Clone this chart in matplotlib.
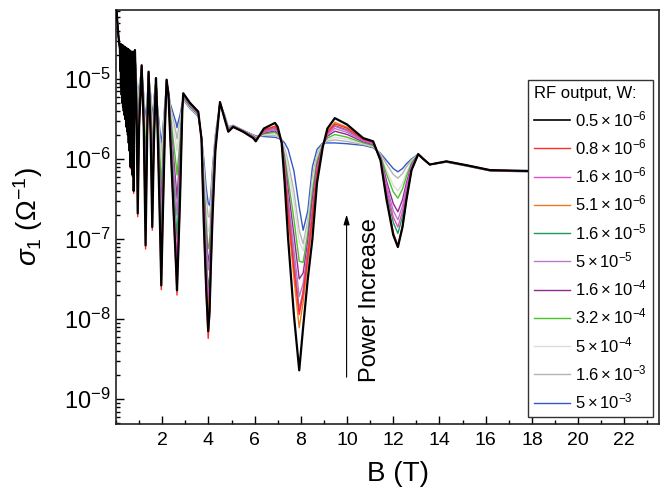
import numpy as np
import matplotlib
matplotlib.use("Agg")
import matplotlib.pyplot as plt
from matplotlib.ticker import MultipleLocator, LogLocator, NullFormatter
from matplotlib.lines import Line2D

plt.rcParams["font.family"] = ["Liberation Sans", "DejaVu Sans"]
plt.rcParams["mathtext.fontset"] = "custom"
plt.rcParams["mathtext.rm"] = "Liberation Sans"
plt.rcParams["mathtext.it"] = "Liberation Sans:italic"
plt.rcParams["mathtext.bf"] = "Liberation Sans:bold"

# --- low-field part (dense SdH oscillations), field in T ---
field_low = [
    0.02, 0.06, 0.10, 0.14, 0.17, 0.185, 0.20, 0.215, 0.23, 0.245, 0.26, 0.275,
    0.29, 0.305, 0.32, 0.335, 0.35, 0.365, 0.38, 0.395, 0.41, 0.425, 0.44, 0.455,
    0.47, 0.485, 0.50, 0.515, 0.53, 0.55, 0.57, 0.59, 0.61, 0.63, 0.65, 0.67,
    0.69, 0.715, 0.74, 0.765, 0.82,
]
# log10(sigma_1), lowest RF power (black) and highest RF power (blue)
low_field_lowest = [
    -4.12, -4.30, -4.45, -4.56, -4.62, -4.90, -4.57, -5.10, -4.57, -5.20, -4.58, -5.30,
    -4.58, -5.35, -4.59, -5.40, -4.60, -5.45, -4.60, -5.50, -4.61, -5.50, -4.62, -5.60,
    -4.62, -5.65, -4.63, -5.70, -4.63, -5.80, -4.64, -5.90, -4.65, -6.10, -4.66, -6.00,
    -4.67, -6.20, -4.66, -6.40, -4.64,
]
low_field_highest = [
    -4.12, -4.30, -4.45, -4.56, -4.62, -4.85, -4.60, -4.95, -4.60, -5.00, -4.61, -5.05,
    -4.61, -5.10, -4.62, -5.12, -4.63, -5.15, -4.64, -5.18, -4.65, -5.20, -4.66, -5.22,
    -4.67, -5.24, -4.68, -5.26, -4.69, -5.28, -4.70, -5.30, -4.72, -5.33, -4.73, -5.33,
    -4.75, -5.35, -4.75, -5.38, -4.70,
]

# --- rest of the sweep ---
field_main = [
    0.90, 0.94, 1.00, 1.11, 1.20, 1.28, 1.35, 1.41, 1.50, 1.57, 1.64, 1.73,
    1.78, 1.90, 1.96, 2.02, 2.12, 2.19, 2.27, 2.34, 2.60, 2.64, 2.68, 2.77,
    2.87, 2.91, 3.20, 3.56, 3.70, 3.80, 3.90, 3.99, 4.05, 4.10, 4.18, 4.30,
    4.50, 4.70, 4.86, 5.07, 5.50, 5.94, 6.05, 6.40, 6.88, 7.00, 7.17, 7.30,
    7.45, 7.70, 7.93, 8.10, 8.30, 8.50, 8.70, 8.95, 9.15, 9.47, 10.0, 10.7,
    11.13, 11.45, 11.71, 12.0, 12.2, 12.4, 12.57, 12.79, 13.08, 13.3, 13.58, 14.3,
    15.2, 16.2, 17.9, 20.0, 23.0,
]
main_lowest = [
    -5.60, -6.68, -5.60, -4.83, -5.60, -7.08, -5.70, -4.91, -5.70, -6.85, -5.80, -4.99,
    -5.40, -6.80, -7.58, -6.80, -5.60, -5.01, -5.20, -5.68, -7.35, -7.64, -7.30, -6.51,
    -5.39, -5.18, -5.30, -5.41, -5.75, -6.80, -7.60, -8.15, -7.90, -7.40, -6.70, -5.90,
    -5.29, -5.50, -5.66, -5.60, -5.66, -5.74, -5.78, -5.62, -5.55, -5.60, -5.80, -6.30,
    -7.00, -7.95, -8.64, -8.10, -7.50, -7.00, -6.30, -5.85, -5.62, -5.49, -5.57, -5.74,
    -5.78, -6.02, -6.51, -6.95, -7.10, -6.85, -6.51, -6.14, -5.94, -6.00, -6.07, -6.03,
    -6.08, -6.14, -6.15, -6.14, -6.13,
]
main_highest = [
    -5.10, -5.30, -5.10, -4.88, -5.20, -5.54, -5.25, -4.95, -5.20, -5.50, -5.25, -5.02,
    -5.30, -5.65, -5.80, -5.65, -5.30, -5.05, -5.15, -5.30, -5.55, -5.61, -5.55, -5.45,
    -5.30, -5.26, -5.37, -5.47, -5.72, -6.00, -6.35, -6.55, -6.58, -6.45, -6.10, -5.70,
    -5.30, -5.45, -5.60, -5.58, -5.64, -5.70, -5.71, -5.72, -5.73, -5.74, -5.76, -5.80,
    -5.88, -6.15, -6.60, -6.89, -6.65, -6.10, -5.88, -5.80, -5.80, -5.80, -5.81, -5.83,
    -5.86, -5.93, -6.02, -6.12, -6.16, -6.12, -6.06, -6.00, -5.94, -6.00, -6.07, -6.04,
    -6.09, -6.15, -6.16, -6.15, -6.14,
]

power_labels = [
    r"$0.5\times10^{-6}$", r"$0.8\times10^{-6}$", r"$1.6\times10^{-6}$",
    r"$5.1\times10^{-6}$", r"$1.6\times10^{-5}$", r"$5\times10^{-5}$",
    r"$1.6\times10^{-4}$", r"$3.2\times10^{-4}$", r"$5\times10^{-4}$",
    r"$1.6\times10^{-3}$", r"$5\times10^{-3}$",
]
colors = ["#000000", "#ff2a2a", "#e050c8", "#f07a22", "#1f9a5a", "#b878c8",
          "#902a90", "#4cc22c", "#dcdcdc", "#b4b4b4", "#3558c4"]

# Minimum of each trace (log10 sigma) at the main dips, black first, blue last
dip_field = [2.64, 4.0, 8.0, 12.2]
dip_min_2p6T = [-7.64, -7.70, -7.30, -7.40, -7.00, -6.70, -6.50, -6.20, -5.90, -5.75, -5.61]
dip_min_4T = [-8.15, -8.24, -7.75, -7.89, -7.64, -7.40, -7.30, -7.14, -6.93, -6.75, -6.58]
dip_min_8T = [-8.64, -8.03, -8.00, -8.18, -7.99, -7.85, -7.66, -7.47, -7.26, -7.14, -6.89]
dip_min_12T = [-7.10, -7.08, -6.85, -7.10, -6.93, -6.76, -6.66, -6.49, -6.40, -6.24, -6.16]

B = np.array(field_low + field_main)
lo = np.array(low_field_lowest + main_lowest)
hi = np.array(low_field_highest + main_highest)

fig = plt.figure(figsize=(6.69, 4.96), dpi=100)
ax = fig.add_axes([0.1734, 0.1452, 0.8116, 0.8346])

dips = [dip_min_2p6T, dip_min_4T, dip_min_8T, dip_min_12T]
for i in range(len(colors) - 1, -1, -1):
    # where this trace sits between the black and blue traces at each dip
    w = [(d[0] - d[i]) / (d[0] - d[-1]) for d in dips]
    wb = np.interp(B, dip_field, w)
    y = lo + wb * (hi - lo)
    lw = 1.6 if i == 0 else 1.0
    ax.plot(B, 10 ** y, color=colors[i], lw=lw, zorder=3 + (len(colors) - i))

handles = [Line2D([], [], color=c, lw=1.2 if i == 0 else 1.0) for i, c in enumerate(colors)]

ax.set_yscale("log")
ax.set_xlim(0, 23.5)
ax.set_ylim(10 ** -9.31, 10 ** -4.14)
ax.set_xticks(np.arange(2, 23, 2))
ax.xaxis.set_minor_locator(MultipleLocator(1))
ax.set_yticks([1e-9, 1e-8, 1e-7, 1e-6, 1e-5])
ax.yaxis.set_minor_locator(LogLocator(base=10, subs=np.arange(2, 10), numticks=20))
ax.yaxis.set_minor_formatter(NullFormatter())

ax.tick_params(which="both", direction="in", top=False, right=False, width=1)
ax.tick_params(which="major", length=6)
ax.tick_params(which="minor", length=3)
ax.tick_params(axis="x", labelsize=14, pad=6)
ax.tick_params(axis="y", labelsize=17, pad=4)
for s in ax.spines.values():
    s.set_linewidth(1.2)
    s.set_color("#222222")

ax.set_xlabel("B (T)", fontsize=20)
ax.set_ylabel(r"$\sigma_1$ ($\Omega^{-1}$)", fontsize=20)
ax.xaxis.set_label_coords(0.52, -0.09)
ax.yaxis.set_label_coords(-0.13, 0.5)

leg = ax.legend(handles, power_labels, title="RF output, W:", loc="upper right",
                bbox_to_anchor=(0.989, 0.831), fontsize=12, title_fontsize=12,
                frameon=True, fancybox=False, edgecolor="#333333", framealpha=1,
                borderaxespad=0, handlelength=2.2, handletextpad=0.3,
                labelspacing=0.5, borderpad=0.35, alignment="left")
leg.get_frame().set_linewidth(1.0)
leg.set_zorder(20)

# power arrow
ax.annotate("", xy=(9.98, 10 ** -6.66), xytext=(9.98, 10 ** -8.76),
            arrowprops=dict(arrowstyle="-|>,head_length=0.6,head_width=0.18",
                            color="black", lw=0.8))
ax.text(11.0, 10 ** -7.76, "Power Increase", rotation=90, ha="center",
        va="center", fontsize=17)

fig.savefig("out.png", dpi=100)
